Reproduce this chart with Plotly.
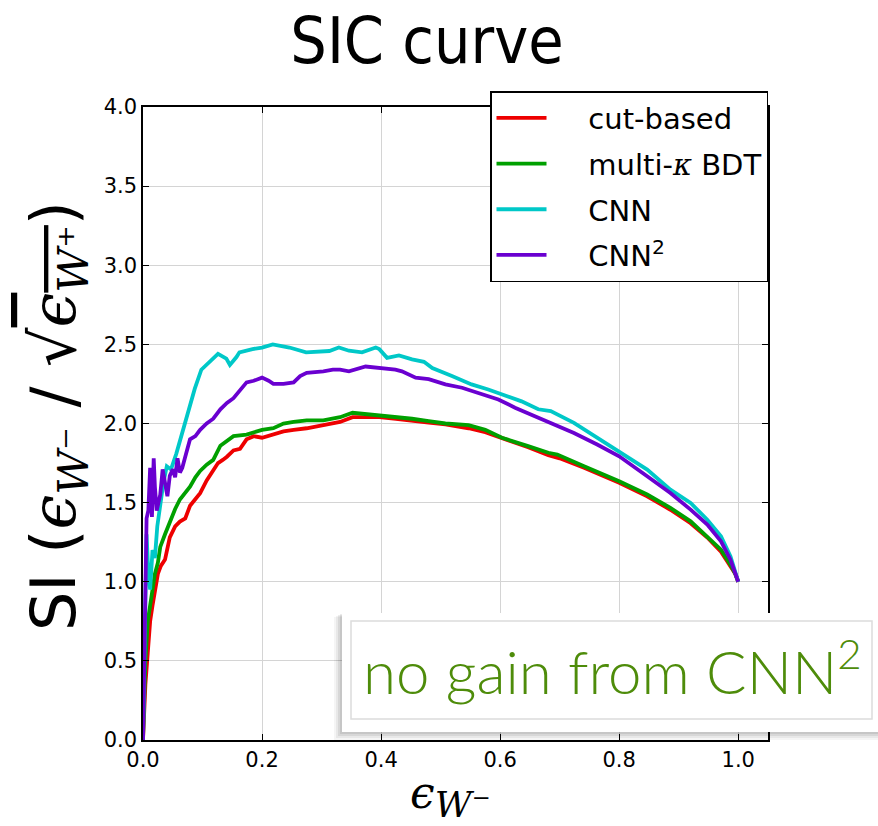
import plotly.graph_objects as go

# ---------------- data ----------------
cut_x = [0, 0.004, 0.008, 0.012, 0.016, 0.020, 0.025, 0.030, 0.037, 0.045, 0.054, 0.062, 0.071,
         0.079, 0.088, 0.096, 0.107, 0.118, 0.126, 0.134, 0.141, 0.152, 0.163, 0.174, 0.186,
         0.200, 0.219, 0.236, 0.253, 0.275, 0.303, 0.331, 0.352, 0.375, 0.397, 0.425, 0.452,
         0.480, 0.508, 0.547, 0.575, 0.603, 0.625, 0.647, 0.681, 0.700, 0.741, 0.800, 0.847,
         0.886, 0.920, 0.948, 0.971, 0.987, 0.995, 1.0]
cut_y = [0, 0.35, 0.55, 0.75, 0.85, 0.95, 1.05, 1.10, 1.14, 1.28, 1.35, 1.38, 1.40,
         1.48, 1.52, 1.56, 1.64, 1.70, 1.75, 1.77, 1.79, 1.83, 1.84, 1.90, 1.92,
         1.91, 1.93, 1.95, 1.96, 1.97, 1.99, 2.01, 2.04, 2.04, 2.04, 2.03, 2.015,
         2.005, 1.994, 1.97, 1.945, 1.91, 1.88, 1.85, 1.80, 1.78, 1.72, 1.625, 1.54,
         1.455, 1.37, 1.28, 1.19, 1.10, 1.05, 1.0]

bdt_x = [0, 0.004, 0.008, 0.012, 0.016, 0.020, 0.025, 0.029, 0.037, 0.045, 0.054, 0.062, 0.071,
         0.079, 0.088, 0.096, 0.107, 0.118, 0.130, 0.141, 0.152, 0.174, 0.200, 0.219, 0.236,
         0.253, 0.275, 0.303, 0.331, 0.352, 0.375, 0.397, 0.425, 0.452, 0.480, 0.508, 0.547,
         0.575, 0.603, 0.625, 0.647, 0.681, 0.696, 0.741, 0.800, 0.847, 0.886, 0.920, 0.948,
         0.971, 0.987, 0.995, 1.0]
bdt_y = [0, 0.50, 0.75, 0.86, 0.95, 1.05, 1.12, 1.22, 1.30, 1.38, 1.46, 1.52, 1.56,
         1.60, 1.66, 1.70, 1.74, 1.77, 1.86, 1.89, 1.92, 1.93, 1.96, 1.97, 2.00,
         2.01, 2.02, 2.02, 2.04, 2.068, 2.06, 2.05, 2.04, 2.03, 2.015, 2.00, 1.99,
         1.96, 1.91, 1.885, 1.857, 1.815, 1.804, 1.73, 1.635, 1.551, 1.467, 1.382, 1.287,
         1.203, 1.108, 1.05, 1.0]

cnn_x = [0, 0.003, 0.006, 0.009, 0.012, 0.016, 0.020, 0.024, 0.029, 0.034, 0.040, 0.047, 0.056,
         0.067, 0.078, 0.087, 0.098, 0.112, 0.126, 0.140, 0.146, 0.157, 0.162, 0.184, 0.200,
         0.218, 0.246, 0.274, 0.302, 0.313, 0.329, 0.346, 0.368, 0.391, 0.397, 0.410, 0.430,
         0.452, 0.472, 0.486, 0.519, 0.552, 0.580, 0.603, 0.636, 0.664, 0.685, 0.724, 0.763,
         0.800, 0.847, 0.886, 0.920, 0.948, 0.971, 0.987, 1.0]
cnn_y = [0, 0.60, 1.30, 1.05, 0.95, 1.20, 1.15, 1.35, 1.50, 1.62, 1.73, 1.71, 1.81,
         1.95, 2.11, 2.22, 2.34, 2.39, 2.44, 2.41, 2.37, 2.42, 2.45, 2.47, 2.48,
         2.50, 2.48, 2.45, 2.46, 2.458, 2.48, 2.46, 2.45, 2.48, 2.47, 2.415, 2.43,
         2.405, 2.39, 2.35, 2.30, 2.247, 2.215, 2.183, 2.14, 2.09, 2.078, 2.004, 1.909,
         1.825, 1.709, 1.582, 1.498, 1.392, 1.287, 1.16, 1.0]

cnn2_x = [0, 0.003, 0.006, 0.009, 0.012, 0.015, 0.018, 0.020, 0.023, 0.026, 0.029, 0.033, 0.037,
          0.041, 0.045, 0.050, 0.054, 0.058, 0.062, 0.066, 0.071, 0.079, 0.088, 0.096, 0.107,
          0.118, 0.130, 0.141, 0.152, 0.163, 0.174, 0.186, 0.200, 0.211, 0.219, 0.236, 0.253,
          0.264, 0.275, 0.303, 0.319, 0.331, 0.346, 0.374, 0.400, 0.424, 0.435, 0.458, 0.480,
          0.508, 0.536, 0.564, 0.597, 0.625, 0.658, 0.685, 0.724, 0.763, 0.800, 0.847, 0.886,
          0.920, 0.948, 0.971, 0.987, 1.0]
cnn2_y = [0, 0.90, 1.40, 1.45, 1.72, 1.41, 1.78, 1.60, 1.45, 1.50, 1.55, 1.71, 1.62,
          1.54, 1.67, 1.71, 1.66, 1.78, 1.69, 1.72, 1.79, 1.90, 1.92, 1.96, 2.00,
          2.03, 2.09, 2.13, 2.16, 2.21, 2.26, 2.27, 2.29, 2.27, 2.25, 2.25, 2.26,
          2.30, 2.32, 2.33, 2.34, 2.34, 2.33, 2.36, 2.35, 2.34, 2.33, 2.29, 2.28,
          2.247, 2.226, 2.194, 2.152, 2.10, 2.046, 2.004, 1.94, 1.867, 1.793, 1.667, 1.561,
          1.456, 1.361, 1.255, 1.139, 1.0]

series_names = ["cut-based", "multi-<span style='font-family:DejaVu Serif;font-style:italic'>κ</span> BDT",
                "CNN", "CNN<sup>2</sup>"]
series_colors = ["#ee0000", "#00a000", "#00c8c8", "#6a00d0"]
x_ticks = [0.0, 0.2, 0.4, 0.6, 0.8, 1.0]
y_ticks = [0.0, 0.5, 1.0, 1.5, 2.0, 2.5, 3.0, 3.5, 4.0]

# ---------------- figure ----------------
PAD = "\u00a0" * 4
fig = go.Figure()
for i, (xs, ys) in enumerate([(cut_x, cut_y), (bdt_x, bdt_y), (cnn_x, cnn_y), (cnn2_x, cnn2_y)]):
    fig.add_trace(go.Scatter(x=xs, y=ys, mode="lines", name=PAD + series_names[i],
                             legendgroup=f"g{i}",
                             line=dict(color=series_colors[i], width=3.8)))

L, R, T, B = 143, 110, 107, 86
W, H = 878, 826
pw, ph = W - L - R, H - T - B

def px2x(p):
    return (p - L) / pw

def py2y(p):
    return (H - B - p) / ph

axis_common = dict(showgrid=True, gridcolor="#d4d4d4", gridwidth=1,
                   showline=True, linecolor="black", linewidth=1.5, mirror="ticks",
                   ticks="inside", ticklen=6, tickcolor="black", tickwidth=1,
                   zeroline=False, tickfont=dict(family="DejaVu Sans", size=21, color="black"),
                   tickformat=".1f")

fig.update_layout(
    width=W, height=H,
    margin=dict(l=L, r=R, t=T, b=B),
    paper_bgcolor="white", plot_bgcolor="white",
    xaxis=dict(range=[0, 1.05], tickvals=x_ticks, **axis_common),
    yaxis=dict(range=[0, 4.0], tickvals=y_ticks, **axis_common),
    showlegend=True,
    legend=dict(x=px2x(490), y=py2y(91), xanchor="left", yanchor="top",
                bgcolor="white", bordercolor="black", borderwidth=1.5,
                font=dict(family="DejaVu Sans", size=29, color="black"),
                tracegroupgap=5, traceorder="grouped", itemwidth=50),
    title=dict(text="SIC curve", x=427 / W, xref="container", xanchor="center",
               y=1 - 41 / H, yref="container", yanchor="middle",
               font=dict(family="DejaVu Sans Condensed, DejaVu Sans", size=64, color="black")),
)

math = "font-family:DejaVu Serif;font-style:italic"
ylabel = ("SI (<span style='" + math + "'>ϵ<sub>W⁻</sub></span> / √"
          "<span style='" + math + ";text-decoration:overline'>ϵ<sub>W⁺</sub></span>)")
fig.add_annotation(text=ylabel, xref="paper", yref="paper", x=px2x(57), y=py2y(416),
                   xanchor="center", yanchor="middle", textangle=-90, showarrow=False,
                   font=dict(family="DejaVu Sans", size=62, color="black"))
fig.add_annotation(text="<span style='" + math + "'>ϵ<sub><span style='font-size:36px'>W⁻</span></sub></span>",
                   xref="paper", yref="paper", x=px2x(450), y=py2y(796),
                   xanchor="center", yanchor="middle", showarrow=False,
                   font=dict(family="DejaVu Serif", size=44, color="black"))

# callout box with soft shadow
for off, op in [(8, 0.04), (6, 0.05), (4, 0.07), (2, 0.08)]:
    fig.add_shape(type="rect", xref="paper", yref="paper", layer="above",
                  x0=px2x(342 - off), x1=px2x(878), y0=py2y(732 + off), y1=py2y(613 + off / 2),
                  fillcolor=f"rgba(0,0,0,{op})", line=dict(width=0))
fig.add_shape(type="rect", xref="paper", yref="paper", layer="above",
              x0=px2x(342), x1=px2x(878), y0=py2y(732), y1=py2y(613),
              fillcolor="white", line=dict(width=0))
fig.add_shape(type="rect", xref="paper", yref="paper", layer="above",
              x0=px2x(351), x1=px2x(872), y0=py2y(719), y1=py2y(621),
              fillcolor="white", line=dict(color="#dcdcdc", width=1.5))
fig.add_annotation(text="no gain from CNN<sup>2</sup>", xref="paper", yref="paper",
                   x=px2x(612), y=py2y(667), xanchor="center", yanchor="middle",
                   showarrow=False,
                   font=dict(family="Lato", size=60, color="#4e8c0a", weight=300))

fig.write_html("out.html")
